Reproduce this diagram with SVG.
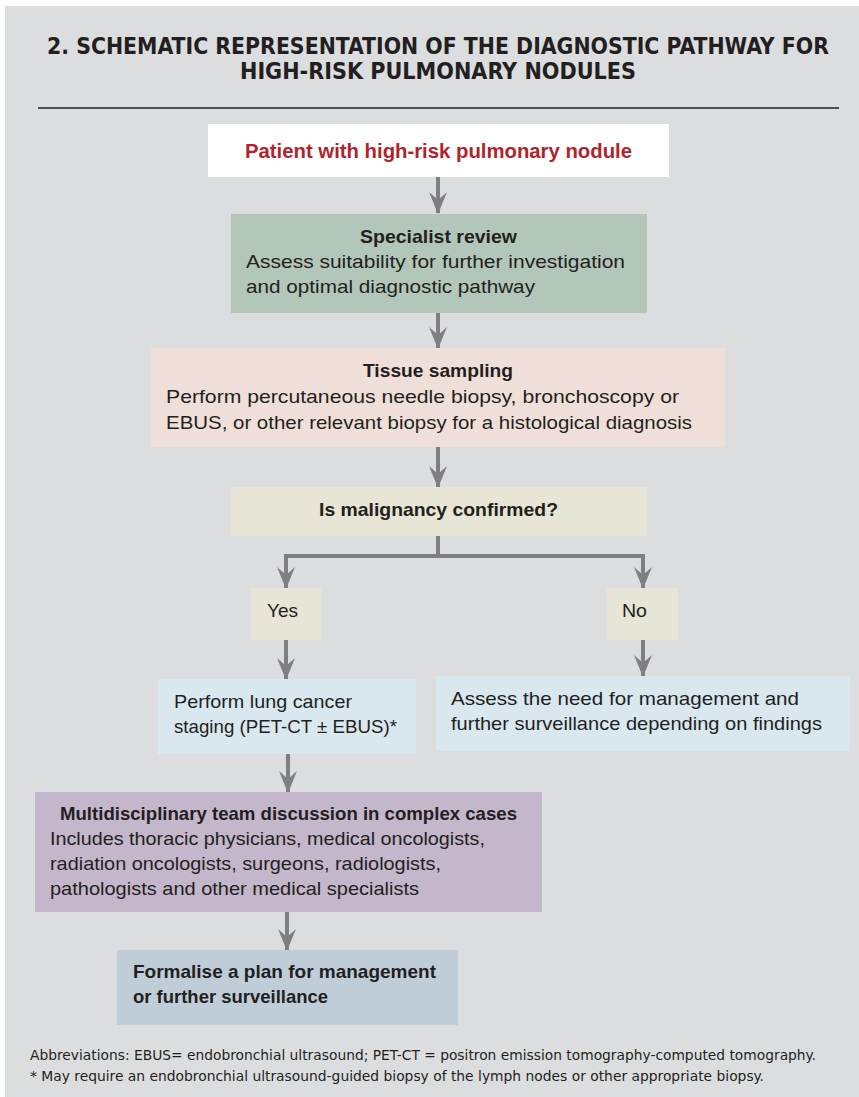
<svg xmlns="http://www.w3.org/2000/svg" width="859" height="1097" viewBox="0 0 859 1097">
<style>
.t{font-family:"Liberation Sans",Arial,sans-serif;font-size:19px;fill:#231f20}
.b{font-weight:bold}
.c{text-anchor:middle}
.title{font-family:"Liberation Sans Narrow","DejaVu Sans Condensed","Liberation Sans",sans-serif;font-weight:bold;font-size:23px;fill:#231f20;text-anchor:middle}
.foot{font-family:"Liberation Sans Narrow","DejaVu Sans Condensed","Liberation Sans",sans-serif;font-size:13.5px;fill:#231f20}
.conn{stroke:#7f7f82;stroke-width:4;fill:none}
</style>
<defs>
<marker id="ah" viewBox="0 0 22 18" refX="21" refY="9" markerWidth="22" markerHeight="18" markerUnits="userSpaceOnUse" orient="auto-start-reverse">
<path d="M0,0 L22,9 L0,18 L8,9 Z" fill="#7f7f82"/>
</marker>
</defs>
<rect x="0" y="0" width="859" height="1097" fill="#ffffff"/>
<rect x="5" y="6" width="854" height="1091" fill="#dcdddf"/>
<text class="title" x="438" y="54" textLength="782" lengthAdjust="spacingAndGlyphs">2. SCHEMATIC REPRESENTATION OF THE DIAGNOSTIC PATHWAY FOR</text>
<text class="title" x="438" y="79" textLength="396" lengthAdjust="spacingAndGlyphs">HIGH-RISK PULMONARY NODULES</text>
<line x1="38" y1="108" x2="839" y2="108" stroke="#231f20" stroke-width="1.5"/>

<g id="connectors">
<line class="conn" x1="438" y1="177" x2="438" y2="213" marker-end="url(#ah)"/>
<line class="conn" x1="438" y1="313" x2="438" y2="348" marker-end="url(#ah)"/>
<line class="conn" x1="438" y1="447" x2="438" y2="487" marker-end="url(#ah)"/>
<path class="conn" d="M438,536 V556"/>
<path class="conn" d="M286,588 V556 H643 V588" marker-start="url(#ah)" marker-end="url(#ah)"/>
<line class="conn" x1="286" y1="640" x2="286" y2="679" marker-end="url(#ah)"/>
<line class="conn" x1="643" y1="640" x2="643" y2="676" marker-end="url(#ah)"/>
<line class="conn" x1="288" y1="754" x2="288" y2="792" marker-end="url(#ah)"/>
<line class="conn" x1="287" y1="912" x2="287" y2="950" marker-end="url(#ah)"/>
</g>

<g id="n1">
<rect x="208" y="124" width="461" height="53" fill="#ffffff"/>
<text class="t b c" x="438.5" y="158" style="fill:#b1232b;font-size:20px" textLength="387" lengthAdjust="spacingAndGlyphs">Patient with high-risk pulmonary nodule</text>
</g>
<g id="n2">
<rect x="231" y="214" width="416" height="99" fill="#b2c6b9"/>
<text class="t b c" x="438.5" y="243" textLength="157" lengthAdjust="spacingAndGlyphs">Specialist review</text>
<text class="t" x="246" y="268" textLength="379" lengthAdjust="spacingAndGlyphs">Assess suitability for further investigation</text>
<text class="t" x="246" y="293" textLength="289" lengthAdjust="spacingAndGlyphs">and optimal diagnostic pathway</text>
</g>
<g id="n3">
<rect x="151" y="348" width="574" height="99" fill="#f0dfd8"/>
<text class="t b c" x="438" y="377" textLength="150" lengthAdjust="spacingAndGlyphs">Tissue sampling</text>
<text class="t" x="166" y="403" textLength="513" lengthAdjust="spacingAndGlyphs">Perform percutaneous needle biopsy, bronchoscopy or</text>
<text class="t" x="166" y="429" textLength="526" lengthAdjust="spacingAndGlyphs">EBUS, or other relevant biopsy for a histological diagnosis</text>
</g>
<g id="n4">
<rect x="231" y="487" width="416" height="49" fill="#e7e5d5"/>
<text class="t b c" x="438.5" y="516" textLength="239" lengthAdjust="spacingAndGlyphs">Is malignancy confirmed?</text>
</g>
<g id="yes">
<rect x="251" y="588" width="70" height="52" fill="#e7e5d5"/>
<text class="t" x="267" y="617" textLength="31" lengthAdjust="spacingAndGlyphs">Yes</text>
</g>
<g id="no">
<rect x="607" y="588" width="71" height="52" fill="#e7e5d5"/>
<text class="t" x="622" y="617" textLength="25" lengthAdjust="spacingAndGlyphs">No</text>
</g>
<g id="n5">
<rect x="158" y="679" width="258" height="75" fill="#d9e7ef"/>
<text class="t" x="174" y="708" textLength="178" lengthAdjust="spacingAndGlyphs">Perform lung cancer</text>
<text class="t" x="174" y="733" textLength="223" lengthAdjust="spacingAndGlyphs">staging (PET-CT ± EBUS)*</text>
</g>
<g id="n6">
<rect x="436" y="676" width="414" height="75" fill="#d9e7ef"/>
<text class="t" x="451" y="705" textLength="348" lengthAdjust="spacingAndGlyphs">Assess the need for management and</text>
<text class="t" x="451" y="730" textLength="371" lengthAdjust="spacingAndGlyphs">further surveillance depending on findings</text>
</g>
<g id="n7">
<rect x="35" y="792" width="507" height="120" fill="#c4b6cb"/>
<text class="t b c" x="288.5" y="820" textLength="457" lengthAdjust="spacingAndGlyphs">Multidisciplinary team discussion in complex cases</text>
<text class="t" x="50" y="845" textLength="435" lengthAdjust="spacingAndGlyphs">Includes thoracic physicians, medical oncologists,</text>
<text class="t" x="50" y="870" textLength="391" lengthAdjust="spacingAndGlyphs">radiation oncologists, surgeons, radiologists,</text>
<text class="t" x="50" y="895" textLength="369" lengthAdjust="spacingAndGlyphs">pathologists and other medical specialists</text>
</g>
<g id="n8">
<rect x="117" y="950" width="341" height="75" fill="#bfcdd9"/>
<text class="t b" x="133" y="978" textLength="303" lengthAdjust="spacingAndGlyphs">Formalise a plan for management</text>
<text class="t b" x="133" y="1003" textLength="195" lengthAdjust="spacingAndGlyphs">or further surveillance</text>
</g>
<text class="foot" x="30" y="1060" textLength="786" lengthAdjust="spacingAndGlyphs">Abbreviations: EBUS= endobronchial ultrasound; PET-CT = positron emission tomography-computed tomography.</text>
<text class="foot" x="30" y="1081" textLength="734" lengthAdjust="spacingAndGlyphs">* May require an endobronchial ultrasound-guided biopsy of the lymph nodes or other appropriate biopsy.</text>
</svg>
